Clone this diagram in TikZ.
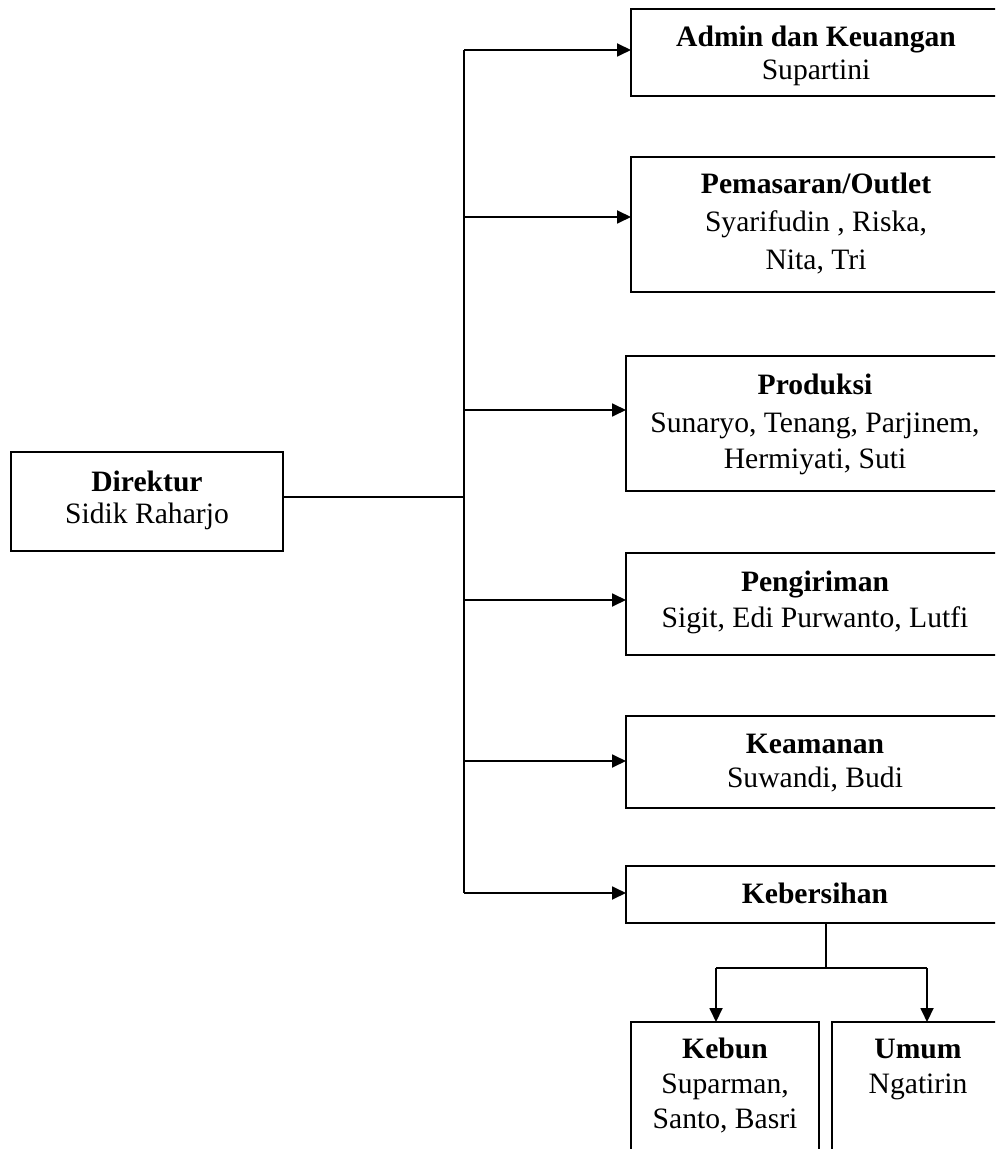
\documentclass[tikz,border=0pt]{standalone}
\usepackage{fontspec}
\setmainfont{Liberation Serif}
\usetikzlibrary{arrows.meta,fit}
\begin{document}
\begin{tikzpicture}[x=0.5pt,y=-0.5pt,
  box/.style={draw, line width=0.9pt, inner sep=0pt, outer sep=0pt},
  conn/.style={line width=0.9pt},
  arr/.style={line width=0.9pt, -{Triangle[length=7pt,width=6.5pt]}},
  txt/.style={anchor=base, inner sep=0pt, font=\fontsize{14.8}{18}\selectfont},
  head/.style={txt, font=\fontsize{14.8}{18}\selectfont\bfseries}]
\useasboundingbox (0,0) rectangle (995,1149);
\clip (0,0) rectangle (995,1149);
% boxes
\node[box, fit={(11,452) (283,551)}] (dir) {};
\node[box, fit={(631,9) (1004,96)}] (adm) {};
\node[box, fit={(631,157) (1004,292)}] (pem) {};
\node[box, fit={(626,356) (1004,491)}] (pro) {};
\node[box, fit={(626,553) (1004,655)}] (pen) {};
\node[box, fit={(626,716) (1004,808)}] (kea) {};
\node[box, fit={(626,866) (1004,923)}] (keb) {};
\node[box, fit={(631,1022) (819,1170)}] (kbn) {};
\node[box, fit={(832,1022) (1004,1170)}] (umm) {};
% texts
\node[head] (dir1) at (147,491) {Direktur};
\node[txt]  (dir2) at (147,523) {Sidik Raharjo};
\node[head] (adm1) at (816,47) {Admin dan Keuangan};
\node[txt]  (adm2) at (816,80) {Supartini};
\node[head] (pem1) at (816,194) {Pemasaran/Outlet};
\node[txt]  (pem2) at (816,232) {Syarifudin , Riska,};
\node[txt]  (pem3) at (816,270) {Nita, Tri};
\node[head] (pro1) at (815,394) {Produksi};
\node[txt]  (pro2) at (815,432) {Sunaryo, Tenang, Parjinem,};
\node[txt]  (pro3) at (815,468) {Hermiyati, Suti};
\node[head] (pen1) at (815,591) {Pengiriman};
\node[txt]  (pen2) at (815,627) {Sigit, Edi Purwanto, Lutfi};
\node[head] (kea1) at (815,753) {Keamanan};
\node[txt]  (kea2) at (815,787) {Suwandi, Budi};
\node[head] (keb1) at (815,903) {Kebersihan};
\node[head] (kbn1) at (725,1058) {Kebun};
\node[txt]  (kbn2) at (725,1093) {Suparman,};
\node[txt]  (kbn3) at (725,1128) {Santo, Basri};
\node[head] (umm1) at (918,1058) {Umum};
\node[txt]  (umm2) at (918,1093) {Ngatirin};
% connectors
\coordinate (t1) at (464,50);
\coordinate (t2) at (464,217);
\coordinate (t3) at (464,410);
\coordinate (tj) at (464,497);
\coordinate (t4) at (464,600);
\coordinate (t5) at (464,761);
\coordinate (t6) at (464,893);
\draw[conn] (t1) -- (t6);
\draw[conn] (tj -| dir.east) -- (tj);
\draw[arr] (t1) -- (t1 -| adm.west);
\draw[arr] (t2) -- (t2 -| pem.west);
\draw[arr] (t3) -- (t3 -| pro.west);
\draw[arr] (t4) -- (t4 -| pen.west);
\draw[arr] (t5) -- (t5 -| kea.west);
\draw[arr] (t6) -- (t6 -| keb.west);
\coordinate (kj) at (826,968);
\coordinate (kl) at (716,968);
\coordinate (kr) at (927,968);
\draw[conn] (kj |- keb.south) -- (kj);
\draw[conn] (kl) -- (kr);
\draw[arr] (kl) -- (kl |- kbn.north);
\draw[arr] (kr) -- (kr |- umm.north);
\end{tikzpicture}
\end{document}
